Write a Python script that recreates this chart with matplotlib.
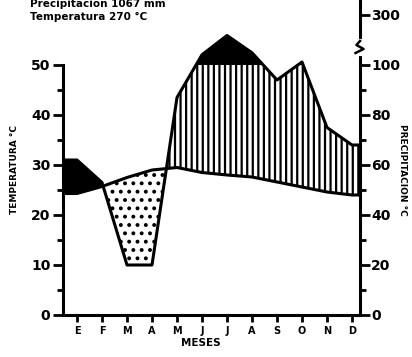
import numpy as np
import matplotlib.pyplot as plt

# data
months = ['E', 'F', 'M', 'A', 'M', 'J', 'J', 'A', 'S', 'O', 'N', 'D']
temp_c = [24.3, 25.7, 27.5, 29.0, 29.5, 28.5, 28.0, 27.6, 26.6, 25.6, 24.6, 24.0]
precip_mm = [62, 53, 20, 20, 87, 141, 218, 149, 94, 112, 75, 68]
left_ticks = [0, 10, 20, 30, 40, 50]
right_ticks_mm = [0, 20, 40, 60, 80, 100, 300]
title_lines = ['Precipitacion 1067 mm', 'Temperatura 270 °C']


def mm_to_scale(p):
  # 20 mm = 10 C below 100 mm, reduced by 10 above 100 mm
  p = np.asarray(p, dtype=float)
  return np.where(p <= 100, p / 2.0, 50 + (p - 100) / 20.0)


W, H = 412, 357
fig = plt.figure(figsize=(W / 100, H / 100), dpi=100)
ax = fig.add_axes([63 / W, 42 / H, (360 - 63) / W, 315 / H])

xmin, xmax = -0.56, 11.32
ymax = 63
x = np.arange(len(months))
# extend the first/last month flat to the frame
xe = np.concatenate([[xmin], x, [xmax]])
te = np.concatenate([[temp_c[0]], temp_c, [temp_c[-1]]])
pe = mm_to_scale(np.concatenate([[precip_mm[0]], precip_mm, [precip_mm[-1]]]))

xf = np.linspace(xmin, xmax, 1200)
tf = np.interp(xf, xe, te)
pf = np.interp(xf, xe, pe)

plt.rcParams['hatch.linewidth'] = 1.6
# humid part: vertical hatching
ax.fill_between(xf, tf, np.minimum(pf, 50), where=pf >= tf, interpolate=True,
                facecolor='white', edgecolor='black', hatch='|||', linewidth=0)
# first months drawn solid
ax.fill_between(xf, tf, pf, where=(pf >= tf) & (xf < 1.2), interpolate=True,
                facecolor='black', edgecolor='black', linewidth=0)
# dry part: stipple
ax.fill_between(xf, pf, tf, where=pf < tf, interpolate=True,
                facecolor='white', edgecolor='black', hatch='..', linewidth=0)
# above 100 mm: solid black
ax.fill_between(xf, 50, pf, where=pf > 50, interpolate=True,
                facecolor='black', edgecolor='black', linewidth=0)

ax.plot(xe, te, color='black', lw=2.2, solid_joinstyle='round')
ax.plot(xe, pe, color='black', lw=2.2, solid_joinstyle='round')

ax.set_xlim(xmin, xmax)
ax.set_ylim(0, ymax)

for s in ['top']:
  ax.spines[s].set_visible(False)
ax.spines['right'].set_visible(False)
ax.spines['left'].set_bounds(0, 50)
for s in ['left', 'bottom']:
  ax.spines[s].set_linewidth(2.2)

ax.set_xticks(x)
ax.set_xticklabels(months, fontsize=7, fontweight='heavy')
ax.tick_params(axis='x', length=5, width=2, pad=3)
ax.set_yticks(left_ticks)
ax.set_yticklabels([str(v) for v in left_ticks], fontsize=10, fontweight='heavy')
ax.set_yticks(np.arange(5, 50, 10), minor=True)
ax.tick_params(axis='y', which='major', length=7, width=2, pad=2)
ax.tick_params(axis='y', which='minor', length=4, width=2)

ax2 = ax.twinx()
ax2.set_ylim(0, ymax)
for s in ['top', 'left', 'bottom']:
  ax2.spines[s].set_visible(False)
ax2.spines['right'].set_linewidth(2.2)
ax2.set_yticks(mm_to_scale(right_ticks_mm))
ax2.set_yticklabels([str(v) for v in right_ticks_mm], fontsize=10, fontweight='heavy')
ax2.set_yticks(np.arange(5, 50, 10), minor=True)
ax2.tick_params(axis='y', which='major', length=7, width=2, pad=1)
ax2.tick_params(axis='y', which='minor', length=4, width=2)

# scale break mark on the right spine
tr = ax2.get_yaxis_transform()
ax2.plot([1.0, 1.0], [52.3, 54.8], color='white', lw=3, transform=tr, clip_on=False, zorder=5)
ax2.plot([0.985, 1.012, 0.988, 1.0], [52.4, 53.2, 54.0, 54.8], color='black', lw=1.8,
         transform=tr, clip_on=False, zorder=6)

fig.text(15 / W, 1 - 170 / H, 'TEMPERATURA °C', rotation=90, ha='center', va='center',
         fontsize=6.5, fontweight='heavy')
fig.text(402 / W, 1 - 170 / H, 'PRECIPITACION °C', rotation=-90, ha='center', va='center',
         fontsize=6.5, fontweight='heavy')
fig.text(201 / W, 1 - 343 / H, 'MESES', ha='center', va='center',
         fontsize=7.5, fontweight='heavy')
fig.text(30 / W, 1 - 4 / H, title_lines[0], ha='left', va='center', fontsize=7.5, fontweight='heavy')
fig.text(30 / W, 1 - 17 / H, title_lines[1], ha='left', va='center', fontsize=7.5, fontweight='heavy')

fig.savefig('out.png', dpi=100)
